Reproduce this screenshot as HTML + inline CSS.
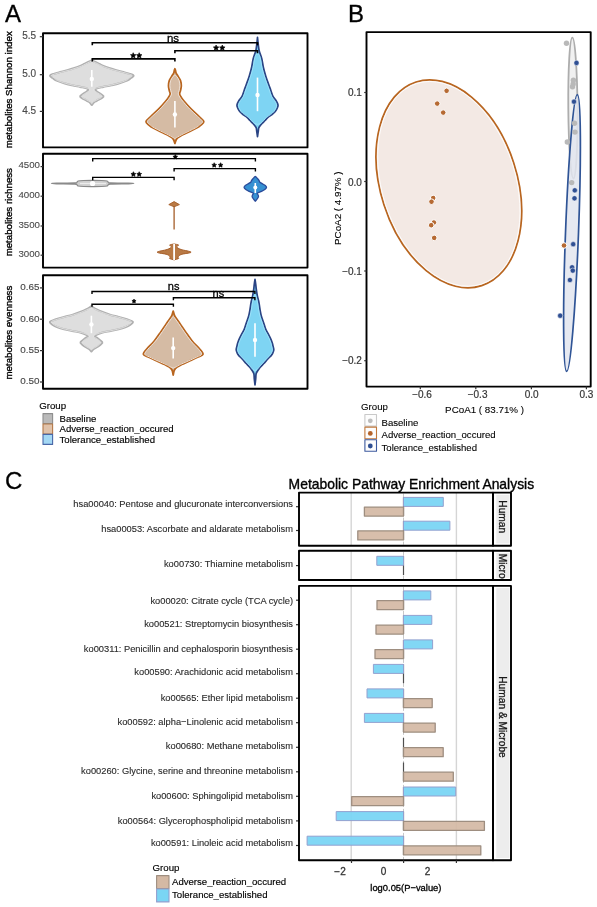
<!DOCTYPE html>
<html><head><meta charset="utf-8"><style>
html,body{margin:0;padding:0;background:#fff;}
body{width:597px;height:907px;overflow:hidden;font-family:"Liberation Sans", sans-serif;}
svg{display:block;will-change:transform;}
</style></head><body>
<svg width="597" height="907" viewBox="0 0 597 907" font-family='"Liberation Sans", sans-serif'><text x="5.00" y="21.60" font-size="24" text-anchor="start" fill="#000" stroke="#000" stroke-width="0.3">A</text>
<rect x="43.00" y="33.20" width="264.50" height="114.20" fill="none" stroke="#000" stroke-width="1.9" stroke-linejoin="round"/>
<rect x="43.00" y="153.80" width="264.50" height="113.80" fill="none" stroke="#000" stroke-width="1.9" stroke-linejoin="round"/>
<rect x="43.00" y="275.30" width="264.50" height="113.40" fill="none" stroke="#000" stroke-width="1.9" stroke-linejoin="round"/>
<line x1="39.80" y1="36.70" x2="43.00" y2="36.70" stroke="#333" stroke-width="1.2"/>
<text x="36.20" y="39.30" font-size="10.0" text-anchor="end" fill="#4a4a4a" stroke="#4a4a4a" stroke-width="0.15">5.5</text>
<line x1="39.80" y1="74.70" x2="43.00" y2="74.70" stroke="#333" stroke-width="1.2"/>
<text x="36.20" y="76.70" font-size="10.0" text-anchor="end" fill="#4a4a4a" stroke="#4a4a4a" stroke-width="0.15">5.0</text>
<line x1="39.80" y1="111.40" x2="43.00" y2="111.40" stroke="#333" stroke-width="1.2"/>
<text x="36.20" y="114.00" font-size="10.0" text-anchor="end" fill="#4a4a4a" stroke="#4a4a4a" stroke-width="0.15">4.5</text>
<text x="11.60" y="89.70" font-size="9.7" text-anchor="middle" fill="#000" stroke="#000" stroke-width="0.35" transform="rotate(-90 11.6 89.7)">metabolites Shannon index</text>
<path d="M91.80,60.30 C92.40,60.58 94.13,61.38 95.40,62.00 C96.67,62.62 98.07,63.33 99.40,64.00 C100.73,64.67 101.78,65.32 103.40,66.00 C105.02,66.68 107.08,67.42 109.10,68.10 C111.12,68.78 113.10,69.43 115.50,70.10 C117.90,70.77 121.22,71.50 123.50,72.10 C125.78,72.70 127.52,73.12 129.20,73.70 C130.88,74.28 133.33,74.88 133.60,75.60 C133.87,76.32 131.80,77.20 130.80,78.00 C129.80,78.80 129.48,79.52 127.60,80.40 C125.72,81.28 122.18,82.48 119.50,83.30 C116.82,84.12 114.18,84.70 111.50,85.30 C108.82,85.90 105.68,86.43 103.40,86.90 C101.12,87.37 99.15,87.65 97.80,88.10 C96.45,88.55 95.47,89.03 95.30,89.60 C95.13,90.17 95.88,90.77 96.80,91.50 C97.72,92.23 99.70,93.23 100.80,94.00 C101.90,94.77 103.15,95.47 103.40,96.10 C103.65,96.73 102.97,97.27 102.30,97.80 C101.63,98.33 100.40,98.77 99.40,99.30 C98.40,99.83 97.23,100.47 96.30,101.00 C95.37,101.53 94.55,101.83 93.80,102.50 C93.05,103.17 92.13,104.58 91.80,105.00 C91.47,104.58 90.55,103.17 89.80,102.50 C89.05,101.83 88.23,101.53 87.30,101.00 C86.37,100.47 85.20,99.83 84.20,99.30 C83.20,98.77 81.97,98.33 81.30,97.80 C80.63,97.27 79.95,96.73 80.20,96.10 C80.45,95.47 81.70,94.77 82.80,94.00 C83.90,93.23 85.88,92.23 86.80,91.50 C87.72,90.77 88.47,90.17 88.30,89.60 C88.13,89.03 87.15,88.55 85.80,88.10 C84.45,87.65 82.48,87.37 80.20,86.90 C77.92,86.43 74.78,85.90 72.10,85.30 C69.42,84.70 66.78,84.12 64.10,83.30 C61.42,82.48 57.88,81.28 56.00,80.40 C54.12,79.52 53.80,78.80 52.80,78.00 C51.80,77.20 49.73,76.32 50.00,75.60 C50.27,74.88 52.72,74.28 54.40,73.70 C56.08,73.12 57.82,72.70 60.10,72.10 C62.38,71.50 65.70,70.77 68.10,70.10 C70.50,69.43 72.48,68.78 74.50,68.10 C76.52,67.42 78.58,66.68 80.20,66.00 C81.82,65.32 82.87,64.67 84.20,64.00 C85.53,63.33 86.93,62.62 88.20,62.00 C89.47,61.38 91.20,60.58 91.80,60.30Z" fill="#dedede" stroke="#b0b0b0" stroke-width="2.1" stroke-linejoin="round"/>
<path d="M91.80,60.80 C92.17,61.00 92.97,61.47 94.00,62.00 C95.03,62.53 96.67,63.33 98.00,64.00 C99.33,64.67 100.38,65.32 102.00,66.00 C103.62,66.68 105.68,67.42 107.70,68.10 C109.72,68.78 111.70,69.43 114.10,70.10 C116.50,70.77 119.82,71.50 122.10,72.10 C124.38,72.70 126.12,73.12 127.80,73.70 C129.48,74.28 131.93,74.88 132.20,75.60 C132.47,76.32 130.40,77.20 129.40,78.00 C128.40,78.80 128.08,79.52 126.20,80.40 C124.32,81.28 120.78,82.48 118.10,83.30 C115.42,84.12 112.78,84.70 110.10,85.30 C107.42,85.90 104.28,86.43 102.00,86.90 C99.72,87.37 97.75,87.65 96.40,88.10 C95.05,88.55 94.07,89.03 93.90,89.60 C93.73,90.17 94.48,90.77 95.40,91.50 C96.32,92.23 98.30,93.23 99.40,94.00 C100.50,94.77 101.75,95.47 102.00,96.10 C102.25,96.73 101.57,97.27 100.90,97.80 C100.23,98.33 99.00,98.77 98.00,99.30 C97.00,99.83 95.83,100.47 94.90,101.00 C93.97,101.53 92.92,102.05 92.40,102.50 C91.88,102.95 91.90,103.50 91.80,103.70 C91.70,103.50 91.72,102.95 91.20,102.50 C90.68,102.05 89.63,101.53 88.70,101.00 C87.77,100.47 86.60,99.83 85.60,99.30 C84.60,98.77 83.37,98.33 82.70,97.80 C82.03,97.27 81.35,96.73 81.60,96.10 C81.85,95.47 83.10,94.77 84.20,94.00 C85.30,93.23 87.28,92.23 88.20,91.50 C89.12,90.77 89.87,90.17 89.70,89.60 C89.53,89.03 88.55,88.55 87.20,88.10 C85.85,87.65 83.88,87.37 81.60,86.90 C79.32,86.43 76.18,85.90 73.50,85.30 C70.82,84.70 68.18,84.12 65.50,83.30 C62.82,82.48 59.28,81.28 57.40,80.40 C55.52,79.52 55.20,78.80 54.20,78.00 C53.20,77.20 51.13,76.32 51.40,75.60 C51.67,74.88 54.12,74.28 55.80,73.70 C57.48,73.12 59.22,72.70 61.50,72.10 C63.78,71.50 67.10,70.77 69.50,70.10 C71.90,69.43 73.88,68.78 75.90,68.10 C77.92,67.42 79.98,66.68 81.60,66.00 C83.22,65.32 84.27,64.67 85.60,64.00 C86.93,63.33 88.57,62.53 89.60,62.00 C90.63,61.47 91.43,61.00 91.80,60.80Z" fill="none" stroke="#e9e9e9" stroke-width="0.8" stroke-linejoin="round"/>
<line x1="91.80" y1="70.10" x2="91.80" y2="86.80" stroke="#fff" stroke-width="1.6"/>
<circle cx="91.80" cy="78.90" r="2.2" fill="#fff" stroke="none" stroke-width="1"/>
<path d="M174.90,68.80 C175.00,69.08 175.30,69.80 175.50,70.50 C175.70,71.20 175.67,72.02 176.10,73.00 C176.53,73.98 177.37,75.15 178.10,76.40 C178.83,77.65 179.97,78.93 180.50,80.50 C181.03,82.07 181.30,84.13 181.30,85.80 C181.30,87.47 180.78,89.13 180.50,90.50 C180.22,91.87 179.45,92.83 179.60,94.00 C179.75,95.17 180.67,96.33 181.40,97.50 C182.13,98.67 182.35,99.05 184.00,101.00 C185.65,102.95 188.82,106.65 191.30,109.20 C193.78,111.75 196.82,114.25 198.90,116.30 C200.98,118.35 203.47,120.05 203.80,121.50 C204.13,122.95 202.10,123.92 200.90,125.00 C199.70,126.08 199.32,126.52 196.60,128.00 C193.88,129.48 187.68,132.32 184.60,133.90 C181.52,135.48 179.52,136.48 178.10,137.50 C176.68,138.52 176.63,139.00 176.10,140.00 C175.57,141.00 175.10,142.92 174.90,143.50 C174.70,142.92 174.23,141.00 173.70,140.00 C173.17,139.00 173.12,138.52 171.70,137.50 C170.28,136.48 168.28,135.48 165.20,133.90 C162.12,132.32 155.92,129.48 153.20,128.00 C150.48,126.52 150.10,126.08 148.90,125.00 C147.70,123.92 145.67,122.95 146.00,121.50 C146.33,120.05 148.82,118.35 150.90,116.30 C152.98,114.25 156.02,111.75 158.50,109.20 C160.98,106.65 164.15,102.95 165.80,101.00 C167.45,99.05 167.67,98.67 168.40,97.50 C169.13,96.33 170.05,95.17 170.20,94.00 C170.35,92.83 169.58,91.87 169.30,90.50 C169.02,89.13 168.50,87.47 168.50,85.80 C168.50,84.13 168.77,82.07 169.30,80.50 C169.83,78.93 170.97,77.65 171.70,76.40 C172.43,75.15 173.27,73.98 173.70,73.00 C174.13,72.02 174.10,71.20 174.30,70.50 C174.50,69.80 174.80,69.08 174.90,68.80Z" fill="#d5bba4" stroke="#b8651f" stroke-width="1.8" stroke-linejoin="round"/>
<path d="M174.90,75.20 C175.20,75.40 176.00,75.52 176.70,76.40 C177.40,77.28 178.57,78.93 179.10,80.50 C179.63,82.07 179.90,84.13 179.90,85.80 C179.90,87.47 179.38,89.13 179.10,90.50 C178.82,91.87 178.05,92.83 178.20,94.00 C178.35,95.17 179.27,96.33 180.00,97.50 C180.73,98.67 180.95,99.05 182.60,101.00 C184.25,102.95 187.42,106.65 189.90,109.20 C192.38,111.75 195.42,114.25 197.50,116.30 C199.58,118.35 202.07,120.05 202.40,121.50 C202.73,122.95 200.70,123.92 199.50,125.00 C198.30,126.08 197.92,126.52 195.20,128.00 C192.48,129.48 186.28,132.32 183.20,133.90 C180.12,135.48 178.08,136.70 176.70,137.50 C175.32,138.30 175.20,138.50 174.90,138.70 C174.60,138.50 174.48,138.30 173.10,137.50 C171.72,136.70 169.68,135.48 166.60,133.90 C163.52,132.32 157.32,129.48 154.60,128.00 C151.88,126.52 151.50,126.08 150.30,125.00 C149.10,123.92 147.07,122.95 147.40,121.50 C147.73,120.05 150.22,118.35 152.30,116.30 C154.38,114.25 157.42,111.75 159.90,109.20 C162.38,106.65 165.55,102.95 167.20,101.00 C168.85,99.05 169.07,98.67 169.80,97.50 C170.53,96.33 171.45,95.17 171.60,94.00 C171.75,92.83 170.98,91.87 170.70,90.50 C170.42,89.13 169.90,87.47 169.90,85.80 C169.90,84.13 170.17,82.07 170.70,80.50 C171.23,78.93 172.40,77.28 173.10,76.40 C173.80,75.52 174.60,75.40 174.90,75.20Z" fill="none" stroke="#ece0d6" stroke-width="1.0" stroke-linejoin="round"/>
<line x1="174.90" y1="101.00" x2="174.90" y2="127.40" stroke="#fff" stroke-width="1.6"/>
<circle cx="174.90" cy="114.50" r="2.2" fill="#fff" stroke="none" stroke-width="1"/>
<path d="M257.50,37.40 C257.63,38.65 258.02,42.67 258.30,44.90 C258.58,47.13 258.82,49.13 259.20,50.80 C259.58,52.47 260.15,53.52 260.60,54.90 C261.05,56.28 261.43,57.00 261.90,59.10 C262.37,61.20 262.77,64.70 263.40,67.50 C264.03,70.30 264.83,73.10 265.70,75.90 C266.57,78.70 267.77,81.95 268.60,84.30 C269.43,86.65 269.97,87.98 270.70,90.00 C271.43,92.02 272.12,94.65 273.00,96.40 C273.88,98.15 275.17,99.10 276.00,100.50 C276.83,101.90 277.78,103.55 278.00,104.80 C278.22,106.05 277.75,106.88 277.30,108.00 C276.85,109.12 276.18,110.42 275.30,111.50 C274.42,112.58 273.22,113.53 272.00,114.50 C270.78,115.47 269.17,116.30 268.00,117.30 C266.83,118.30 265.95,119.52 265.00,120.50 C264.05,121.48 263.30,122.05 262.30,123.20 C261.30,124.35 259.67,126.10 259.00,127.40 C258.33,128.70 258.55,129.47 258.30,131.00 C258.05,132.53 257.63,135.67 257.50,136.60 C257.37,135.67 256.95,132.53 256.70,131.00 C256.45,129.47 256.67,128.70 256.00,127.40 C255.33,126.10 253.70,124.35 252.70,123.20 C251.70,122.05 250.95,121.48 250.00,120.50 C249.05,119.52 248.17,118.30 247.00,117.30 C245.83,116.30 244.22,115.47 243.00,114.50 C241.78,113.53 240.58,112.58 239.70,111.50 C238.82,110.42 238.15,109.12 237.70,108.00 C237.25,106.88 236.78,106.05 237.00,104.80 C237.22,103.55 238.17,101.90 239.00,100.50 C239.83,99.10 241.12,98.15 242.00,96.40 C242.88,94.65 243.57,92.02 244.30,90.00 C245.03,87.98 245.57,86.65 246.40,84.30 C247.23,81.95 248.43,78.70 249.30,75.90 C250.17,73.10 250.97,70.30 251.60,67.50 C252.23,64.70 252.63,61.20 253.10,59.10 C253.57,57.00 253.95,56.28 254.40,54.90 C254.85,53.52 255.42,52.47 255.80,50.80 C256.18,49.13 256.42,47.13 256.70,44.90 C256.98,42.67 257.37,38.65 257.50,37.40Z" fill="#7ed4f3" stroke="#2a4484" stroke-width="1.7" stroke-linejoin="round"/>
<path d="M257.50,53.70 C257.78,53.90 258.70,54.00 259.20,54.90 C259.70,55.80 260.03,57.00 260.50,59.10 C260.97,61.20 261.37,64.70 262.00,67.50 C262.63,70.30 263.43,73.10 264.30,75.90 C265.17,78.70 266.37,81.95 267.20,84.30 C268.03,86.65 268.57,87.98 269.30,90.00 C270.03,92.02 270.72,94.65 271.60,96.40 C272.48,98.15 273.77,99.10 274.60,100.50 C275.43,101.90 276.38,103.55 276.60,104.80 C276.82,106.05 276.35,106.88 275.90,108.00 C275.45,109.12 274.78,110.42 273.90,111.50 C273.02,112.58 271.82,113.53 270.60,114.50 C269.38,115.47 267.77,116.30 266.60,117.30 C265.43,118.30 264.55,119.52 263.60,120.50 C262.65,121.48 261.92,122.55 260.90,123.20 C259.88,123.85 258.07,124.20 257.50,124.40 C256.93,124.20 255.12,123.85 254.10,123.20 C253.08,122.55 252.35,121.48 251.40,120.50 C250.45,119.52 249.57,118.30 248.40,117.30 C247.23,116.30 245.62,115.47 244.40,114.50 C243.18,113.53 241.98,112.58 241.10,111.50 C240.22,110.42 239.55,109.12 239.10,108.00 C238.65,106.88 238.18,106.05 238.40,104.80 C238.62,103.55 239.57,101.90 240.40,100.50 C241.23,99.10 242.52,98.15 243.40,96.40 C244.28,94.65 244.97,92.02 245.70,90.00 C246.43,87.98 246.97,86.65 247.80,84.30 C248.63,81.95 249.83,78.70 250.70,75.90 C251.57,73.10 252.37,70.30 253.00,67.50 C253.63,64.70 254.03,61.20 254.50,59.10 C254.97,57.00 255.30,55.80 255.80,54.90 C256.30,54.00 257.22,53.90 257.50,53.70Z" fill="none" stroke="#a5e4fb" stroke-width="0.8" stroke-linejoin="round"/>
<line x1="257.50" y1="77.60" x2="257.50" y2="111.20" stroke="#fff" stroke-width="1.6"/>
<circle cx="257.50" cy="95.00" r="2.2" fill="#fff" stroke="none" stroke-width="1"/>
<path d="M92.30,45.30 L92.30,42.80 L257.50,42.80 L257.50,45.30" fill="none" stroke="#000" stroke-width="1.6"/>
<path d="M92.30,61.40 L92.30,58.90 L174.90,58.90 L174.90,61.40" fill="none" stroke="#000" stroke-width="1.6"/>
<path d="M174.90,53.30 L174.90,50.80 L257.50,50.80 L257.50,53.30" fill="none" stroke="#000" stroke-width="1.6"/>
<text x="173.00" y="42.20" font-size="11.5" text-anchor="middle" fill="#000" stroke="#000" stroke-width="0.3">ns</text>
<polygon points="133.20,52.70 134.05,54.43 135.96,54.70 134.58,56.05 134.90,57.95 133.20,57.05 131.50,57.95 131.82,56.05 130.44,54.70 132.35,54.43" fill="#000" stroke="#000" stroke-width="0.6" stroke-linejoin="round"/>
<polygon points="139.20,52.70 140.05,54.43 141.96,54.70 140.58,56.05 140.90,57.95 139.20,57.05 137.50,57.95 137.82,56.05 136.44,54.70 138.35,54.43" fill="#000" stroke="#000" stroke-width="0.6" stroke-linejoin="round"/>
<polygon points="216.10,45.00 216.95,46.73 218.86,47.00 217.48,48.35 217.80,50.25 216.10,49.35 214.40,50.25 214.72,48.35 213.34,47.00 215.25,46.73" fill="#000" stroke="#000" stroke-width="0.6" stroke-linejoin="round"/>
<polygon points="222.30,45.00 223.15,46.73 225.06,47.00 223.68,48.35 224.00,50.25 222.30,49.35 220.60,50.25 220.92,48.35 219.54,47.00 221.45,46.73" fill="#000" stroke="#000" stroke-width="0.6" stroke-linejoin="round"/>
<line x1="40.60" y1="166.60" x2="43.00" y2="166.60" stroke="#333" stroke-width="1.2"/>
<text x="40.00" y="168.20" font-size="9.7" text-anchor="end" fill="#4a4a4a" stroke="#4a4a4a" stroke-width="0.1">4500</text>
<line x1="40.60" y1="196.20" x2="43.00" y2="196.20" stroke="#333" stroke-width="1.2"/>
<text x="40.00" y="198.20" font-size="9.7" text-anchor="end" fill="#4a4a4a" stroke="#4a4a4a" stroke-width="0.1">4000</text>
<line x1="40.60" y1="226.00" x2="43.00" y2="226.00" stroke="#333" stroke-width="1.2"/>
<text x="40.00" y="228.00" font-size="9.7" text-anchor="end" fill="#4a4a4a" stroke="#4a4a4a" stroke-width="0.1">3500</text>
<line x1="40.60" y1="255.20" x2="43.00" y2="255.20" stroke="#333" stroke-width="1.2"/>
<text x="40.00" y="257.20" font-size="9.7" text-anchor="end" fill="#4a4a4a" stroke="#4a4a4a" stroke-width="0.1">3000</text>
<text x="11.80" y="212.20" font-size="9.7" text-anchor="middle" fill="#000" stroke="#000" stroke-width="0.35" transform="rotate(-90 11.8 212.2)">metabolites richness</text>
<path d="M92.60,180.30 C94.10,180.33 99.18,180.38 101.60,180.50 C104.02,180.62 106.02,180.75 107.10,181.00 C108.18,181.25 107.52,181.68 108.10,182.00 C108.68,182.32 107.18,182.70 110.60,182.90 C114.02,183.10 124.73,183.10 128.60,183.20 C132.47,183.30 133.80,183.40 133.80,183.50 C133.80,183.60 132.47,183.70 128.60,183.80 C124.73,183.90 114.02,183.90 110.60,184.10 C107.18,184.30 108.68,184.68 108.10,185.00 C107.52,185.32 108.18,185.75 107.10,186.00 C106.02,186.25 104.02,186.38 101.60,186.50 C99.18,186.62 94.10,186.67 92.60,186.70 C91.10,186.67 86.02,186.62 83.60,186.50 C81.18,186.38 79.18,186.25 78.10,186.00 C77.02,185.75 77.68,185.32 77.10,185.00 C76.52,184.68 78.02,184.30 74.60,184.10 C71.18,183.90 60.47,183.90 56.60,183.80 C52.73,183.70 51.40,183.60 51.40,183.50 C51.40,183.40 52.73,183.30 56.60,183.20 C60.47,183.10 71.18,183.10 74.60,182.90 C78.02,182.70 76.52,182.32 77.10,182.00 C77.68,181.68 77.02,181.25 78.10,181.00 C79.18,180.75 81.18,180.62 83.60,180.50 C86.02,180.38 91.10,180.33 92.60,180.30Z" fill="#cfcfcf" stroke="#8a8a8a" stroke-width="1.2" stroke-linejoin="round"/>
<line x1="80.00" y1="183.50" x2="106.00" y2="183.50" stroke="#ececec" stroke-width="1.3"/>
<circle cx="92.60" cy="183.50" r="2.6" fill="#fff" stroke="none" stroke-width="1"/>
<path d="M174.1,201.6 L179.4,204.6 L174.1,206.8 L168.8,204.6 Z" fill="#b97a45" stroke="#a55d28" stroke-width="0.9" stroke-linejoin="round"/>
<line x1="174.10" y1="206.00" x2="174.10" y2="229.60" stroke="#a55d28" stroke-width="1.3"/>
<path d="M174.10,244.00 C174.85,244.17 178.18,244.50 178.60,245.00 C179.02,245.50 176.18,246.25 176.60,247.00 C177.02,247.75 178.68,248.63 181.10,249.50 C183.52,250.37 191.10,251.37 191.10,252.20 C191.10,253.03 183.27,253.70 181.10,254.50 C178.93,255.30 178.52,256.33 178.10,257.00 C177.68,257.67 179.27,258.02 178.60,258.50 C177.93,258.98 174.85,259.67 174.10,259.90 C173.35,259.67 170.27,258.98 169.60,258.50 C168.93,258.02 170.52,257.67 170.10,257.00 C169.68,256.33 169.27,255.30 167.10,254.50 C164.93,253.70 157.10,253.03 157.10,252.20 C157.10,251.37 164.68,250.37 167.10,249.50 C169.52,248.63 171.18,247.75 171.60,247.00 C172.02,246.25 169.18,245.50 169.60,245.00 C170.02,244.50 173.35,244.17 174.10,244.00Z" fill="#b97a45" stroke="#a55d28" stroke-width="1.0" stroke-linejoin="round"/>
<line x1="174.10" y1="244.00" x2="174.10" y2="260.00" stroke="#fff" stroke-width="1.8"/>
<path d="M255.30,176.40 C255.50,176.58 256.07,177.07 256.50,177.50 C256.93,177.93 257.47,178.47 257.90,179.00 C258.33,179.53 258.77,180.17 259.10,180.70 C259.43,181.23 259.40,181.72 259.90,182.20 C260.40,182.68 261.20,183.05 262.10,183.60 C263.00,184.15 264.57,184.87 265.30,185.50 C266.03,186.13 266.58,186.73 266.50,187.40 C266.42,188.07 265.63,188.83 264.80,189.50 C263.97,190.17 262.75,190.78 261.50,191.40 C260.25,192.02 257.90,192.67 257.30,193.20 C256.70,193.73 257.70,194.05 257.90,194.60 C258.10,195.15 258.57,195.85 258.50,196.50 C258.43,197.15 258.03,197.72 257.50,198.50 C256.97,199.28 255.67,200.75 255.30,201.20 C254.93,200.75 253.63,199.28 253.10,198.50 C252.57,197.72 252.17,197.15 252.10,196.50 C252.03,195.85 252.50,195.15 252.70,194.60 C252.90,194.05 253.90,193.73 253.30,193.20 C252.70,192.67 250.35,192.02 249.10,191.40 C247.85,190.78 246.63,190.17 245.80,189.50 C244.97,188.83 244.18,188.07 244.10,187.40 C244.02,186.73 244.57,186.13 245.30,185.50 C246.03,184.87 247.60,184.15 248.50,183.60 C249.40,183.05 250.20,182.68 250.70,182.20 C251.20,181.72 251.17,181.23 251.50,180.70 C251.83,180.17 252.27,179.53 252.70,179.00 C253.13,178.47 253.67,177.93 254.10,177.50 C254.53,177.07 255.10,176.58 255.30,176.40Z" fill="#3590d2" stroke="#2b4c9b" stroke-width="1.3" stroke-linejoin="round"/>
<line x1="255.30" y1="183.00" x2="255.30" y2="193.00" stroke="#fff" stroke-width="1.6"/>
<circle cx="255.30" cy="187.60" r="2.0" fill="#fff" stroke="none" stroke-width="1"/>
<path d="M92.70,161.40 L92.70,158.60 L255.40,158.60 L255.40,161.40" fill="none" stroke="#000" stroke-width="1.4"/>
<path d="M174.10,171.40 L174.10,168.60 L255.40,168.60 L255.40,171.40" fill="none" stroke="#000" stroke-width="1.4"/>
<path d="M92.70,180.20 L92.70,177.40 L174.10,177.40 L174.10,180.20" fill="none" stroke="#000" stroke-width="1.4"/>
<polygon points="175.30,154.50 176.03,155.99 177.68,156.23 176.49,157.39 176.77,159.02 175.30,158.25 173.83,159.02 174.11,157.39 172.92,156.23 174.57,155.99" fill="#000" stroke="#000" stroke-width="0.6" stroke-linejoin="round"/>
<polygon points="214.20,162.70 214.93,164.19 216.58,164.43 215.39,165.59 215.67,167.22 214.20,166.45 212.73,167.22 213.01,165.59 211.82,164.43 213.47,164.19" fill="#000" stroke="#000" stroke-width="0.6" stroke-linejoin="round"/>
<polygon points="220.60,162.70 221.33,164.19 222.98,164.43 221.79,165.59 222.07,167.22 220.60,166.45 219.13,167.22 219.41,165.59 218.22,164.43 219.87,164.19" fill="#000" stroke="#000" stroke-width="0.6" stroke-linejoin="round"/>
<polygon points="133.40,171.70 134.16,173.25 135.87,173.50 134.64,174.70 134.93,176.40 133.40,175.60 131.87,176.40 132.16,174.70 130.93,173.50 132.64,173.25" fill="#000" stroke="#000" stroke-width="0.6" stroke-linejoin="round"/>
<polygon points="139.20,171.70 139.96,173.25 141.67,173.50 140.44,174.70 140.73,176.40 139.20,175.60 137.67,176.40 137.96,174.70 136.73,173.50 138.44,173.25" fill="#000" stroke="#000" stroke-width="0.6" stroke-linejoin="round"/>
<line x1="40.00" y1="287.90" x2="43.00" y2="287.90" stroke="#333" stroke-width="1.2"/>
<text x="39.40" y="290.40" font-size="9.9" text-anchor="end" fill="#4a4a4a" stroke="#4a4a4a" stroke-width="0.15">0.65</text>
<line x1="40.00" y1="319.20" x2="43.00" y2="319.20" stroke="#333" stroke-width="1.2"/>
<text x="39.40" y="321.60" font-size="9.9" text-anchor="end" fill="#4a4a4a" stroke="#4a4a4a" stroke-width="0.15">0.60</text>
<line x1="40.00" y1="350.60" x2="43.00" y2="350.60" stroke="#333" stroke-width="1.2"/>
<text x="39.40" y="353.00" font-size="9.9" text-anchor="end" fill="#4a4a4a" stroke="#4a4a4a" stroke-width="0.15">0.55</text>
<line x1="40.00" y1="382.00" x2="43.00" y2="382.00" stroke="#333" stroke-width="1.2"/>
<text x="39.40" y="384.40" font-size="9.9" text-anchor="end" fill="#4a4a4a" stroke="#4a4a4a" stroke-width="0.15">0.50</text>
<text x="11.80" y="332.60" font-size="9.7" text-anchor="middle" fill="#000" stroke="#000" stroke-width="0.35" transform="rotate(-90 11.8 332.6)">metabolites evenness</text>
<path d="M91.40,306.20 C92.20,306.70 94.33,308.22 96.20,309.20 C98.07,310.18 100.18,311.15 102.60,312.10 C105.02,313.05 108.02,314.10 110.70,314.90 C113.38,315.70 116.02,316.17 118.70,316.90 C121.38,317.63 124.45,318.50 126.80,319.30 C129.15,320.10 132.27,320.77 132.80,321.70 C133.33,322.63 131.27,323.97 130.00,324.90 C128.73,325.83 127.08,326.57 125.20,327.30 C123.32,328.03 121.12,328.68 118.70,329.30 C116.28,329.92 113.38,330.45 110.70,331.00 C108.02,331.55 104.88,332.00 102.60,332.60 C100.32,333.20 98.30,333.97 97.00,334.60 C95.70,335.23 94.65,335.75 94.80,336.40 C94.95,337.05 96.67,337.53 97.90,338.50 C99.13,339.47 101.70,341.23 102.20,342.20 C102.70,343.17 101.50,343.63 100.90,344.30 C100.30,344.97 99.78,345.42 98.60,346.20 C97.42,346.98 95.00,348.13 93.80,349.00 C92.60,349.87 91.80,351.00 91.40,351.40 C91.00,351.00 90.20,349.87 89.00,349.00 C87.80,348.13 85.38,346.98 84.20,346.20 C83.02,345.42 82.50,344.97 81.90,344.30 C81.30,343.63 80.10,343.17 80.60,342.20 C81.10,341.23 83.67,339.47 84.90,338.50 C86.13,337.53 87.85,337.05 88.00,336.40 C88.15,335.75 87.10,335.23 85.80,334.60 C84.50,333.97 82.48,333.20 80.20,332.60 C77.92,332.00 74.78,331.55 72.10,331.00 C69.42,330.45 66.52,329.92 64.10,329.30 C61.68,328.68 59.48,328.03 57.60,327.30 C55.72,326.57 54.07,325.83 52.80,324.90 C51.53,323.97 49.47,322.63 50.00,321.70 C50.53,320.77 53.65,320.10 56.00,319.30 C58.35,318.50 61.42,317.63 64.10,316.90 C66.78,316.17 69.42,315.70 72.10,314.90 C74.78,314.10 77.78,313.05 80.20,312.10 C82.62,311.15 84.73,310.18 86.60,309.20 C88.47,308.22 90.60,306.70 91.40,306.20Z" fill="#dedede" stroke="#b0b0b0" stroke-width="2.1" stroke-linejoin="round"/>
<path d="M91.40,308.00 C91.97,308.20 93.17,308.52 94.80,309.20 C96.43,309.88 98.78,311.15 101.20,312.10 C103.62,313.05 106.62,314.10 109.30,314.90 C111.98,315.70 114.62,316.17 117.30,316.90 C119.98,317.63 123.05,318.50 125.40,319.30 C127.75,320.10 130.87,320.77 131.40,321.70 C131.93,322.63 129.87,323.97 128.60,324.90 C127.33,325.83 125.68,326.57 123.80,327.30 C121.92,328.03 119.72,328.68 117.30,329.30 C114.88,329.92 111.98,330.45 109.30,331.00 C106.62,331.55 103.48,332.00 101.20,332.60 C98.92,333.20 96.90,333.97 95.60,334.60 C94.30,335.23 93.25,335.75 93.40,336.40 C93.55,337.05 95.27,337.53 96.50,338.50 C97.73,339.47 100.30,341.23 100.80,342.20 C101.30,343.17 100.10,343.63 99.50,344.30 C98.90,344.97 98.38,345.42 97.20,346.20 C96.02,346.98 93.37,348.33 92.40,349.00 C91.43,349.67 91.57,350.00 91.40,350.20 C91.23,350.00 91.37,349.67 90.40,349.00 C89.43,348.33 86.78,346.98 85.60,346.20 C84.42,345.42 83.90,344.97 83.30,344.30 C82.70,343.63 81.50,343.17 82.00,342.20 C82.50,341.23 85.07,339.47 86.30,338.50 C87.53,337.53 89.25,337.05 89.40,336.40 C89.55,335.75 88.50,335.23 87.20,334.60 C85.90,333.97 83.88,333.20 81.60,332.60 C79.32,332.00 76.18,331.55 73.50,331.00 C70.82,330.45 67.92,329.92 65.50,329.30 C63.08,328.68 60.88,328.03 59.00,327.30 C57.12,326.57 55.47,325.83 54.20,324.90 C52.93,323.97 50.87,322.63 51.40,321.70 C51.93,320.77 55.05,320.10 57.40,319.30 C59.75,318.50 62.82,317.63 65.50,316.90 C68.18,316.17 70.82,315.70 73.50,314.90 C76.18,314.10 79.18,313.05 81.60,312.10 C84.02,311.15 86.37,309.88 88.00,309.20 C89.63,308.52 90.83,308.20 91.40,308.00Z" fill="none" stroke="#e9e9e9" stroke-width="0.8" stroke-linejoin="round"/>
<line x1="91.40" y1="315.70" x2="91.40" y2="333.20" stroke="#fff" stroke-width="1.6"/>
<circle cx="91.40" cy="324.40" r="2.2" fill="#fff" stroke="none" stroke-width="1"/>
<path d="M173.20,311.10 C173.37,311.67 173.78,313.42 174.20,314.50 C174.62,315.58 174.75,316.12 175.70,317.60 C176.65,319.08 178.27,321.05 179.90,323.40 C181.53,325.75 183.45,328.77 185.50,331.70 C187.55,334.63 189.80,338.08 192.20,341.00 C194.60,343.92 198.10,347.00 199.90,349.20 C201.70,351.40 203.28,352.90 203.00,354.20 C202.72,355.50 200.43,355.87 198.20,357.00 C195.97,358.13 192.35,359.75 189.60,361.00 C186.85,362.25 183.70,363.53 181.70,364.50 C179.70,365.47 178.82,365.88 177.60,366.80 C176.38,367.72 175.13,368.63 174.40,370.00 C173.67,371.37 173.40,374.17 173.20,375.00 C173.00,374.17 172.73,371.37 172.00,370.00 C171.27,368.63 170.02,367.72 168.80,366.80 C167.58,365.88 166.70,365.47 164.70,364.50 C162.70,363.53 159.55,362.25 156.80,361.00 C154.05,359.75 150.43,358.13 148.20,357.00 C145.97,355.87 143.68,355.50 143.40,354.20 C143.12,352.90 144.70,351.40 146.50,349.20 C148.30,347.00 151.80,343.92 154.20,341.00 C156.60,338.08 158.85,334.63 160.90,331.70 C162.95,328.77 164.87,325.75 166.50,323.40 C168.13,321.05 169.75,319.08 170.70,317.60 C171.65,316.12 171.78,315.58 172.20,314.50 C172.62,313.42 173.03,311.67 173.20,311.10Z" fill="#d5bba4" stroke="#b8651f" stroke-width="1.8" stroke-linejoin="round"/>
<path d="M173.20,316.40 C173.38,316.60 173.42,316.43 174.30,317.60 C175.18,318.77 176.87,321.05 178.50,323.40 C180.13,325.75 182.05,328.77 184.10,331.70 C186.15,334.63 188.40,338.08 190.80,341.00 C193.20,343.92 196.70,347.00 198.50,349.20 C200.30,351.40 201.88,352.90 201.60,354.20 C201.32,355.50 199.03,355.87 196.80,357.00 C194.57,358.13 190.95,359.75 188.20,361.00 C185.45,362.25 182.30,363.53 180.30,364.50 C178.30,365.47 177.38,366.22 176.20,366.80 C175.02,367.38 173.70,367.80 173.20,368.00 C172.70,367.80 171.38,367.38 170.20,366.80 C169.02,366.22 168.10,365.47 166.10,364.50 C164.10,363.53 160.95,362.25 158.20,361.00 C155.45,359.75 151.83,358.13 149.60,357.00 C147.37,355.87 145.08,355.50 144.80,354.20 C144.52,352.90 146.10,351.40 147.90,349.20 C149.70,347.00 153.20,343.92 155.60,341.00 C158.00,338.08 160.25,334.63 162.30,331.70 C164.35,328.77 166.27,325.75 167.90,323.40 C169.53,321.05 171.22,318.77 172.10,317.60 C172.98,316.43 173.02,316.60 173.20,316.40Z" fill="none" stroke="#ece0d6" stroke-width="1.0" stroke-linejoin="round"/>
<line x1="173.20" y1="337.50" x2="173.20" y2="358.60" stroke="#fff" stroke-width="1.6"/>
<circle cx="173.20" cy="348.10" r="2.2" fill="#fff" stroke="none" stroke-width="1"/>
<path d="M255.00,279.30 C255.12,280.08 255.48,282.32 255.70,284.00 C255.92,285.68 256.02,287.38 256.30,289.40 C256.58,291.42 256.95,293.87 257.40,296.10 C257.85,298.33 258.57,300.57 259.00,302.80 C259.43,305.03 259.60,307.27 260.00,309.50 C260.40,311.73 260.78,313.97 261.40,316.20 C262.02,318.43 262.95,320.67 263.70,322.90 C264.45,325.13 265.13,327.75 265.90,329.60 C266.67,331.45 267.53,332.53 268.30,334.00 C269.07,335.47 269.83,336.90 270.50,338.40 C271.17,339.90 271.85,341.60 272.30,343.00 C272.75,344.40 272.95,345.68 273.20,346.80 C273.45,347.92 273.83,348.75 273.80,349.70 C273.77,350.65 273.38,351.60 273.00,352.50 C272.62,353.40 272.37,354.02 271.50,355.10 C270.63,356.18 269.08,357.60 267.80,359.00 C266.52,360.40 264.93,362.25 263.80,363.50 C262.67,364.75 261.87,365.52 261.00,366.50 C260.13,367.48 259.40,368.22 258.60,369.40 C257.80,370.58 256.68,372.00 256.20,373.60 C255.72,375.20 255.90,377.12 255.70,379.00 C255.50,380.88 255.12,383.92 255.00,384.90 C254.88,383.92 254.50,380.88 254.30,379.00 C254.10,377.12 254.28,375.20 253.80,373.60 C253.32,372.00 252.20,370.58 251.40,369.40 C250.60,368.22 249.87,367.48 249.00,366.50 C248.13,365.52 247.33,364.75 246.20,363.50 C245.07,362.25 243.48,360.40 242.20,359.00 C240.92,357.60 239.37,356.18 238.50,355.10 C237.63,354.02 237.38,353.40 237.00,352.50 C236.62,351.60 236.23,350.65 236.20,349.70 C236.17,348.75 236.55,347.92 236.80,346.80 C237.05,345.68 237.25,344.40 237.70,343.00 C238.15,341.60 238.83,339.90 239.50,338.40 C240.17,336.90 240.93,335.47 241.70,334.00 C242.47,332.53 243.33,331.45 244.10,329.60 C244.87,327.75 245.55,325.13 246.30,322.90 C247.05,320.67 247.98,318.43 248.60,316.20 C249.22,313.97 249.60,311.73 250.00,309.50 C250.40,307.27 250.57,305.03 251.00,302.80 C251.43,300.57 252.15,298.33 252.60,296.10 C253.05,293.87 253.42,291.42 253.70,289.40 C253.98,287.38 254.08,285.68 254.30,284.00 C254.52,282.32 254.88,280.08 255.00,279.30Z" fill="#7ed4f3" stroke="#2a4484" stroke-width="1.7" stroke-linejoin="round"/>
<path d="M255.00,294.90 C255.17,295.10 255.57,294.78 256.00,296.10 C256.43,297.42 257.17,300.57 257.60,302.80 C258.03,305.03 258.20,307.27 258.60,309.50 C259.00,311.73 259.38,313.97 260.00,316.20 C260.62,318.43 261.55,320.67 262.30,322.90 C263.05,325.13 263.73,327.75 264.50,329.60 C265.27,331.45 266.13,332.53 266.90,334.00 C267.67,335.47 268.43,336.90 269.10,338.40 C269.77,339.90 270.45,341.60 270.90,343.00 C271.35,344.40 271.55,345.68 271.80,346.80 C272.05,347.92 272.43,348.75 272.40,349.70 C272.37,350.65 271.98,351.60 271.60,352.50 C271.22,353.40 270.97,354.02 270.10,355.10 C269.23,356.18 267.68,357.60 266.40,359.00 C265.12,360.40 263.53,362.25 262.40,363.50 C261.27,364.75 260.47,365.52 259.60,366.50 C258.73,367.48 257.97,368.72 257.20,369.40 C256.43,370.08 255.37,370.40 255.00,370.60 C254.63,370.40 253.57,370.08 252.80,369.40 C252.03,368.72 251.27,367.48 250.40,366.50 C249.53,365.52 248.73,364.75 247.60,363.50 C246.47,362.25 244.88,360.40 243.60,359.00 C242.32,357.60 240.77,356.18 239.90,355.10 C239.03,354.02 238.78,353.40 238.40,352.50 C238.02,351.60 237.63,350.65 237.60,349.70 C237.57,348.75 237.95,347.92 238.20,346.80 C238.45,345.68 238.65,344.40 239.10,343.00 C239.55,341.60 240.23,339.90 240.90,338.40 C241.57,336.90 242.33,335.47 243.10,334.00 C243.87,332.53 244.73,331.45 245.50,329.60 C246.27,327.75 246.95,325.13 247.70,322.90 C248.45,320.67 249.38,318.43 250.00,316.20 C250.62,313.97 251.00,311.73 251.40,309.50 C251.80,307.27 251.97,305.03 252.40,302.80 C252.83,300.57 253.57,297.42 254.00,296.10 C254.43,294.78 254.83,295.10 255.00,294.90Z" fill="none" stroke="#a5e4fb" stroke-width="0.8" stroke-linejoin="round"/>
<line x1="255.00" y1="323.20" x2="255.00" y2="356.80" stroke="#fff" stroke-width="1.6"/>
<circle cx="255.00" cy="340.00" r="2.2" fill="#fff" stroke="none" stroke-width="1"/>
<path d="M92.00,294.00 L92.00,291.50 L254.90,291.50 L254.90,294.00" fill="none" stroke="#000" stroke-width="1.4"/>
<path d="M173.40,300.30 L173.40,297.80 L254.90,297.80 L254.90,300.30" fill="none" stroke="#000" stroke-width="1.4"/>
<path d="M92.00,306.70 L92.00,304.20 L173.40,304.20 L173.40,306.70" fill="none" stroke="#000" stroke-width="1.4"/>
<text x="173.60" y="290.00" font-size="11" text-anchor="middle" fill="#000" stroke="#000" stroke-width="0.3">ns</text>
<text x="218.40" y="296.80" font-size="11" text-anchor="middle" fill="#000" stroke="#000" stroke-width="0.3">ns</text>
<polygon points="134.00,299.00 134.65,300.31 136.09,300.52 135.05,301.54 135.29,302.98 134.00,302.30 132.71,302.98 132.95,301.54 131.91,300.52 133.35,300.31" fill="#000" stroke="#000" stroke-width="0.6" stroke-linejoin="round"/>
<text x="39.20" y="409.20" font-size="9.7" text-anchor="start" fill="#000" stroke="#000" stroke-width="0.15">Group</text>
<rect x="43.00" y="413.60" width="9.60" height="10.00" fill="#bababa" stroke="#8e8e8e" stroke-width="1.1" stroke-linejoin="round"/>
<text x="59.50" y="422.00" font-size="9.6" text-anchor="start" fill="#000" stroke="#000" stroke-width="0.15">Baseline</text>
<rect x="43.00" y="424.00" width="9.60" height="10.00" fill="#e0c2aa" stroke="#b47a4a" stroke-width="1.1" stroke-linejoin="round"/>
<text x="59.50" y="432.40" font-size="9.6" text-anchor="start" fill="#000" stroke="#000" stroke-width="0.15">Adverse_reaction_occured</text>
<rect x="43.00" y="434.40" width="9.60" height="10.00" fill="#a4d8f4" stroke="#4a68a8" stroke-width="1.1" stroke-linejoin="round"/>
<text x="59.50" y="442.80" font-size="9.6" text-anchor="start" fill="#000" stroke="#000" stroke-width="0.15">Tolerance_established</text>
<text x="348.00" y="21.60" font-size="24" text-anchor="start" fill="#000" stroke="#000" stroke-width="0.3">B</text>
<rect x="366.50" y="32.10" width="224.20" height="354.50" fill="none" stroke="#000" stroke-width="1.9" stroke-linejoin="round"/>
<line x1="364.20" y1="92.50" x2="366.50" y2="92.50" stroke="#333" stroke-width="1.2"/>
<text x="361.90" y="95.60" font-size="10.0" text-anchor="end" fill="#353535" stroke="#353535" stroke-width="0.2">0.1</text>
<line x1="364.20" y1="181.50" x2="366.50" y2="181.50" stroke="#333" stroke-width="1.2"/>
<text x="361.90" y="185.70" font-size="10.0" text-anchor="end" fill="#353535" stroke="#353535" stroke-width="0.2">0.0</text>
<line x1="364.20" y1="271.00" x2="366.50" y2="271.00" stroke="#333" stroke-width="1.2"/>
<text x="361.90" y="274.50" font-size="10.0" text-anchor="end" fill="#353535" stroke="#353535" stroke-width="0.2">−0.1</text>
<line x1="364.20" y1="360.70" x2="366.50" y2="360.70" stroke="#333" stroke-width="1.2"/>
<text x="361.90" y="364.10" font-size="10.0" text-anchor="end" fill="#353535" stroke="#353535" stroke-width="0.2">−0.2</text>
<line x1="420.30" y1="386.60" x2="420.30" y2="389.20" stroke="#333" stroke-width="1.2"/>
<text x="422.00" y="398.40" font-size="10.0" text-anchor="middle" fill="#353535" stroke="#353535" stroke-width="0.2">−0.6</text>
<line x1="475.80" y1="386.60" x2="475.80" y2="389.20" stroke="#333" stroke-width="1.2"/>
<text x="477.60" y="398.40" font-size="10.0" text-anchor="middle" fill="#353535" stroke="#353535" stroke-width="0.2">−0.3</text>
<line x1="531.40" y1="386.60" x2="531.40" y2="389.20" stroke="#333" stroke-width="1.2"/>
<text x="531.60" y="398.40" font-size="10.0" text-anchor="middle" fill="#353535" stroke="#353535" stroke-width="0.2">0.0</text>
<line x1="586.40" y1="386.60" x2="586.40" y2="389.20" stroke="#333" stroke-width="1.2"/>
<text x="586.40" y="398.40" font-size="10.0" text-anchor="middle" fill="#353535" stroke="#353535" stroke-width="0.2">0.3</text>
<text x="484.60" y="413.00" font-size="9.8" text-anchor="middle" fill="#000" stroke="#000" stroke-width="0.1">PCoA1 ( 83.71% )</text>
<text x="341.40" y="208.20" font-size="9.8" text-anchor="middle" fill="#000" stroke="#000" stroke-width="0.1" transform="rotate(-90 341.4 208.2)">PCoA2 ( 4.97% )</text>
<ellipse cx="448.84" cy="183.84" rx="68.2" ry="107.0" transform="rotate(-17.87 448.84 183.84)" fill="#f3e9e4" stroke="#b8651f" stroke-width="1.7"/>
<ellipse cx="448.84" cy="183.84" rx="66.6" ry="105.4" transform="rotate(-17.87 448.84 183.84)" fill="none" stroke="#ffffff" stroke-width="0.8"/>
<ellipse cx="572.9" cy="108.1" rx="4.6" ry="70.4" transform="rotate(-0.45 572.9 108.1)" fill="#f1f1f1" stroke="#adadad" stroke-width="1.8"/>
<ellipse cx="572.0" cy="233.0" rx="6.5" ry="138.5" transform="rotate(2.2 572.0 233.0)" fill="#e2e5ee" fill-opacity="0.85" stroke="#2f5496" stroke-width="1.7"/>
<circle cx="446.60" cy="90.80" r="2.8" fill="#b66a33" stroke="#fff" stroke-width="1.0"/>
<circle cx="437.20" cy="103.60" r="2.8" fill="#b66a33" stroke="#fff" stroke-width="1.0"/>
<circle cx="443.20" cy="112.60" r="2.8" fill="#b66a33" stroke="#fff" stroke-width="1.0"/>
<circle cx="433.20" cy="198.00" r="2.8" fill="#b66a33" stroke="#fff" stroke-width="1.0"/>
<circle cx="431.50" cy="201.70" r="2.8" fill="#b66a33" stroke="#fff" stroke-width="1.0"/>
<circle cx="433.90" cy="222.50" r="2.8" fill="#b66a33" stroke="#fff" stroke-width="1.0"/>
<circle cx="431.20" cy="225.20" r="2.8" fill="#b66a33" stroke="#fff" stroke-width="1.0"/>
<circle cx="434.20" cy="237.90" r="2.8" fill="#b66a33" stroke="#fff" stroke-width="1.0"/>
<circle cx="564.00" cy="245.50" r="2.8" fill="#b66a33" stroke="#fff" stroke-width="1.0"/>
<circle cx="566.50" cy="43.20" r="2.7" fill="#b9b9b9" stroke="none" stroke-width="1"/>
<circle cx="573.40" cy="80.20" r="2.7" fill="#b9b9b9" stroke="none" stroke-width="1"/>
<circle cx="573.20" cy="84.00" r="2.7" fill="#b9b9b9" stroke="none" stroke-width="1"/>
<circle cx="572.50" cy="86.80" r="2.7" fill="#b9b9b9" stroke="none" stroke-width="1"/>
<circle cx="574.50" cy="123.30" r="2.7" fill="#b9b9b9" stroke="none" stroke-width="1"/>
<circle cx="575.00" cy="132.10" r="2.7" fill="#b9b9b9" stroke="none" stroke-width="1"/>
<circle cx="567.30" cy="142.00" r="2.7" fill="#b9b9b9" stroke="none" stroke-width="1"/>
<circle cx="571.70" cy="182.60" r="2.7" fill="#b9b9b9" stroke="none" stroke-width="1"/>
<circle cx="576.50" cy="62.90" r="2.6" fill="#2f4f93" stroke="#fff" stroke-width="0.5"/>
<circle cx="574.00" cy="101.70" r="2.6" fill="#2f4f93" stroke="#fff" stroke-width="0.5"/>
<circle cx="574.80" cy="190.30" r="2.6" fill="#2f4f93" stroke="#fff" stroke-width="0.5"/>
<circle cx="574.50" cy="198.30" r="2.6" fill="#2f4f93" stroke="#fff" stroke-width="0.5"/>
<circle cx="573.20" cy="244.20" r="2.6" fill="#2f4f93" stroke="#fff" stroke-width="0.5"/>
<circle cx="572.10" cy="267.30" r="2.6" fill="#2f4f93" stroke="#fff" stroke-width="0.5"/>
<circle cx="572.80" cy="270.60" r="2.6" fill="#2f4f93" stroke="#fff" stroke-width="0.5"/>
<circle cx="569.90" cy="280.00" r="2.6" fill="#2f4f93" stroke="#fff" stroke-width="0.5"/>
<circle cx="560.20" cy="315.70" r="2.6" fill="#2f4f93" stroke="#fff" stroke-width="0.5"/>
<text x="361.00" y="409.80" font-size="9.7" text-anchor="start" fill="#000" stroke="#000" stroke-width="0.1">Group</text>
<rect x="364.90" y="414.50" width="11.60" height="11.60" fill="#fdfdfd" stroke="#c9c9c9" stroke-width="1.1" stroke-linejoin="round"/>
<circle cx="370.30" cy="420.80" r="2.4" fill="#bdbdbd" stroke="none" stroke-width="1"/>
<text x="381.50" y="425.50" font-size="9.6" text-anchor="start" fill="#000" stroke="#000" stroke-width="0.1">Baseline</text>
<rect x="364.90" y="427.10" width="11.60" height="11.60" fill="#fdfdfd" stroke="#c0783c" stroke-width="1.1" stroke-linejoin="round"/>
<circle cx="370.30" cy="433.40" r="2.4" fill="#b5642a" stroke="none" stroke-width="1"/>
<text x="381.50" y="438.10" font-size="9.6" text-anchor="start" fill="#000" stroke="#000" stroke-width="0.1">Adverse_reaction_occured</text>
<rect x="364.90" y="439.70" width="11.60" height="11.60" fill="#fdfdfd" stroke="#3d5a9e" stroke-width="1.1" stroke-linejoin="round"/>
<circle cx="370.30" cy="446.00" r="2.4" fill="#2f4f93" stroke="none" stroke-width="1"/>
<text x="381.50" y="450.70" font-size="9.6" text-anchor="start" fill="#000" stroke="#000" stroke-width="0.1">Tolerance_established</text>
<text x="5.00" y="488.60" font-size="24" text-anchor="start" fill="#000" stroke="#000" stroke-width="0.3">C</text>
<text x="288.60" y="489.20" font-size="13.9" text-anchor="start" fill="#000" stroke="#000" stroke-width="0.35">Metabolic Pathway Enrichment Analysis</text>
<rect x="299.00" y="492.60" width="194.00" height="53.10" fill="#fff" stroke="none" stroke-width="1" stroke-linejoin="round"/>
<line x1="351.20" y1="492.60" x2="351.20" y2="545.70" stroke="#d5d5d5" stroke-width="1.4"/>
<line x1="456.40" y1="492.60" x2="456.40" y2="545.70" stroke="#d5d5d5" stroke-width="1.4"/>
<line x1="403.50" y1="493.60" x2="403.50" y2="544.70" stroke="#c8c8c8" stroke-width="1.0" stroke-dasharray="4,2"/>
<line x1="403.50" y1="497.40" x2="403.50" y2="516.20" stroke="#4f4f4f" stroke-width="1.2"/>
<line x1="403.50" y1="521.20" x2="403.50" y2="540.00" stroke="#4f4f4f" stroke-width="1.2"/>
<rect x="403.50" y="497.40" width="39.80" height="9.00" fill="#7ad5f4" stroke="#93a0cf" stroke-width="1.0" stroke-linejoin="round" fill-opacity="0.95"/>
<rect x="364.40" y="507.10" width="39.10" height="9.00" fill="#d4b9a4" stroke="#9e8e80" stroke-width="1.3" stroke-linejoin="round" fill-opacity="0.92"/>
<line x1="296.00" y1="506.70" x2="299.00" y2="506.70" stroke="#333" stroke-width="1.2"/>
<text x="293.00" y="507.10" font-size="9.3" text-anchor="end" fill="#2a2a2a" stroke="#2a2a2a" stroke-width="0.12">hsa00040: Pentose and glucuronate interconversions</text>
<rect x="403.50" y="521.20" width="46.40" height="9.00" fill="#7ad5f4" stroke="#93a0cf" stroke-width="1.0" stroke-linejoin="round" fill-opacity="0.95"/>
<rect x="357.80" y="530.90" width="45.70" height="9.00" fill="#d4b9a4" stroke="#9e8e80" stroke-width="1.3" stroke-linejoin="round" fill-opacity="0.92"/>
<line x1="296.00" y1="530.50" x2="299.00" y2="530.50" stroke="#333" stroke-width="1.2"/>
<text x="293.00" y="532.40" font-size="9.3" text-anchor="end" fill="#2a2a2a" stroke="#2a2a2a" stroke-width="0.12">hsa00053: Ascorbate and aldarate metabolism</text>
<rect x="299.00" y="492.60" width="194.00" height="53.10" fill="none" stroke="#000" stroke-width="1.9" stroke-linejoin="round"/>
<rect x="496.30" y="494.80" width="13.20" height="48.70" fill="#ededed" stroke="none" stroke-width="1" stroke-linejoin="round"/>
<rect x="493.00" y="492.60" width="18.00" height="53.10" fill="none" stroke="#000" stroke-width="1.9" stroke-linejoin="round"/>
<text x="498.50" y="516.70" font-size="10.2" text-anchor="middle" fill="#1a1a1a" stroke="#1a1a1a" stroke-width="0.3" transform="rotate(90 498.5 516.7)">Human</text>
<rect x="299.00" y="550.80" width="194.00" height="29.20" fill="#fff" stroke="none" stroke-width="1" stroke-linejoin="round"/>
<line x1="351.20" y1="550.80" x2="351.20" y2="580.00" stroke="#d5d5d5" stroke-width="1.4"/>
<line x1="456.40" y1="550.80" x2="456.40" y2="580.00" stroke="#d5d5d5" stroke-width="1.4"/>
<line x1="403.50" y1="551.80" x2="403.50" y2="579.00" stroke="#c8c8c8" stroke-width="1.0" stroke-dasharray="4,2"/>
<line x1="403.50" y1="556.30" x2="403.50" y2="575.10" stroke="#4f4f4f" stroke-width="1.2"/>
<rect x="376.80" y="556.30" width="26.70" height="9.00" fill="#7ad5f4" stroke="#93a0cf" stroke-width="1.0" stroke-linejoin="round" fill-opacity="0.95"/>
<line x1="296.00" y1="565.60" x2="299.00" y2="565.60" stroke="#333" stroke-width="1.2"/>
<text x="293.00" y="567.20" font-size="9.3" text-anchor="end" fill="#2a2a2a" stroke="#2a2a2a" stroke-width="0.12">ko00730: Thiamine metabolism</text>
<rect x="299.00" y="550.80" width="194.00" height="29.20" fill="none" stroke="#000" stroke-width="1.9" stroke-linejoin="round"/>
<rect x="496.30" y="553.00" width="13.20" height="24.80" fill="#ededed" stroke="none" stroke-width="1" stroke-linejoin="round"/>
<rect x="493.00" y="550.80" width="18.00" height="29.20" fill="none" stroke="#000" stroke-width="1.9" stroke-linejoin="round"/>
<text x="498.50" y="566.20" font-size="10.2" text-anchor="middle" fill="#1a1a1a" stroke="#1a1a1a" stroke-width="0.3" transform="rotate(90 498.5 566.2)">Micro</text>
<rect x="299.00" y="585.90" width="194.00" height="274.30" fill="#fff" stroke="none" stroke-width="1" stroke-linejoin="round"/>
<line x1="351.20" y1="585.90" x2="351.20" y2="860.20" stroke="#d5d5d5" stroke-width="1.4"/>
<line x1="456.40" y1="585.90" x2="456.40" y2="860.20" stroke="#d5d5d5" stroke-width="1.4"/>
<line x1="403.50" y1="586.90" x2="403.50" y2="859.20" stroke="#c8c8c8" stroke-width="1.0" stroke-dasharray="4,2"/>
<line x1="403.50" y1="590.90" x2="403.50" y2="609.70" stroke="#4f4f4f" stroke-width="1.2"/>
<line x1="403.50" y1="615.40" x2="403.50" y2="634.20" stroke="#4f4f4f" stroke-width="1.2"/>
<line x1="403.50" y1="639.90" x2="403.50" y2="658.70" stroke="#4f4f4f" stroke-width="1.2"/>
<line x1="403.50" y1="664.40" x2="403.50" y2="683.20" stroke="#4f4f4f" stroke-width="1.2"/>
<line x1="403.50" y1="688.90" x2="403.50" y2="707.70" stroke="#4f4f4f" stroke-width="1.2"/>
<line x1="403.50" y1="713.40" x2="403.50" y2="732.20" stroke="#4f4f4f" stroke-width="1.2"/>
<line x1="403.50" y1="738.00" x2="403.50" y2="756.80" stroke="#4f4f4f" stroke-width="1.2"/>
<line x1="403.50" y1="762.50" x2="403.50" y2="781.30" stroke="#4f4f4f" stroke-width="1.2"/>
<line x1="403.50" y1="787.00" x2="403.50" y2="805.80" stroke="#4f4f4f" stroke-width="1.2"/>
<line x1="403.50" y1="811.60" x2="403.50" y2="830.40" stroke="#4f4f4f" stroke-width="1.2"/>
<line x1="403.50" y1="836.20" x2="403.50" y2="855.00" stroke="#4f4f4f" stroke-width="1.2"/>
<rect x="403.50" y="590.90" width="27.30" height="9.00" fill="#7ad5f4" stroke="#93a0cf" stroke-width="1.0" stroke-linejoin="round" fill-opacity="0.95"/>
<rect x="377.00" y="600.60" width="26.50" height="9.00" fill="#d4b9a4" stroke="#9e8e80" stroke-width="1.3" stroke-linejoin="round" fill-opacity="0.92"/>
<line x1="296.00" y1="600.20" x2="299.00" y2="600.20" stroke="#333" stroke-width="1.2"/>
<text x="293.00" y="604.00" font-size="9.3" text-anchor="end" fill="#2a2a2a" stroke="#2a2a2a" stroke-width="0.12">ko00020: Citrate cycle (TCA cycle)</text>
<rect x="403.50" y="615.40" width="28.30" height="9.00" fill="#7ad5f4" stroke="#93a0cf" stroke-width="1.0" stroke-linejoin="round" fill-opacity="0.95"/>
<rect x="376.00" y="625.10" width="27.50" height="9.00" fill="#d4b9a4" stroke="#9e8e80" stroke-width="1.3" stroke-linejoin="round" fill-opacity="0.92"/>
<line x1="296.00" y1="624.70" x2="299.00" y2="624.70" stroke="#333" stroke-width="1.2"/>
<text x="293.00" y="627.00" font-size="9.3" text-anchor="end" fill="#2a2a2a" stroke="#2a2a2a" stroke-width="0.12">ko00521: Streptomycin biosynthesis</text>
<rect x="403.50" y="639.90" width="29.10" height="9.00" fill="#7ad5f4" stroke="#93a0cf" stroke-width="1.0" stroke-linejoin="round" fill-opacity="0.95"/>
<rect x="375.00" y="649.60" width="28.50" height="9.00" fill="#d4b9a4" stroke="#9e8e80" stroke-width="1.3" stroke-linejoin="round" fill-opacity="0.92"/>
<line x1="296.00" y1="649.20" x2="299.00" y2="649.20" stroke="#333" stroke-width="1.2"/>
<text x="293.00" y="651.70" font-size="9.3" text-anchor="end" fill="#2a2a2a" stroke="#2a2a2a" stroke-width="0.12">ko00311: Penicillin and cephalosporin biosynthesis</text>
<rect x="373.40" y="664.40" width="30.10" height="9.00" fill="#7ad5f4" stroke="#93a0cf" stroke-width="1.0" stroke-linejoin="round" fill-opacity="0.95"/>
<line x1="296.00" y1="673.70" x2="299.00" y2="673.70" stroke="#333" stroke-width="1.2"/>
<text x="293.00" y="675.30" font-size="9.3" text-anchor="end" fill="#2a2a2a" stroke="#2a2a2a" stroke-width="0.12">ko00590: Arachidonic acid metabolism</text>
<rect x="367.00" y="688.90" width="36.50" height="9.00" fill="#7ad5f4" stroke="#93a0cf" stroke-width="1.0" stroke-linejoin="round" fill-opacity="0.95"/>
<rect x="403.50" y="698.60" width="28.70" height="9.00" fill="#d4b9a4" stroke="#9e8e80" stroke-width="1.3" stroke-linejoin="round" fill-opacity="0.92"/>
<line x1="296.00" y1="698.20" x2="299.00" y2="698.20" stroke="#333" stroke-width="1.2"/>
<text x="293.00" y="700.60" font-size="9.3" text-anchor="end" fill="#2a2a2a" stroke="#2a2a2a" stroke-width="0.12">ko00565: Ether lipid metabolism</text>
<rect x="364.40" y="713.40" width="39.10" height="9.00" fill="#7ad5f4" stroke="#93a0cf" stroke-width="1.0" stroke-linejoin="round" fill-opacity="0.95"/>
<rect x="403.50" y="723.10" width="31.70" height="9.00" fill="#d4b9a4" stroke="#9e8e80" stroke-width="1.3" stroke-linejoin="round" fill-opacity="0.92"/>
<line x1="296.00" y1="722.70" x2="299.00" y2="722.70" stroke="#333" stroke-width="1.2"/>
<text x="293.00" y="725.00" font-size="9.3" text-anchor="end" fill="#2a2a2a" stroke="#2a2a2a" stroke-width="0.12">ko00592: alpha−Linolenic acid metabolism</text>
<rect x="403.50" y="747.70" width="39.70" height="9.00" fill="#d4b9a4" stroke="#9e8e80" stroke-width="1.3" stroke-linejoin="round" fill-opacity="0.92"/>
<line x1="296.00" y1="747.30" x2="299.00" y2="747.30" stroke="#333" stroke-width="1.2"/>
<text x="293.00" y="749.00" font-size="9.3" text-anchor="end" fill="#2a2a2a" stroke="#2a2a2a" stroke-width="0.12">ko00680: Methane metabolism</text>
<rect x="403.50" y="772.20" width="49.80" height="9.00" fill="#d4b9a4" stroke="#9e8e80" stroke-width="1.3" stroke-linejoin="round" fill-opacity="0.92"/>
<line x1="296.00" y1="771.80" x2="299.00" y2="771.80" stroke="#333" stroke-width="1.2"/>
<text x="293.00" y="774.20" font-size="9.3" text-anchor="end" fill="#2a2a2a" stroke="#2a2a2a" stroke-width="0.12">ko00260: Glycine, serine and threonine metabolism</text>
<rect x="403.50" y="787.00" width="52.20" height="9.00" fill="#7ad5f4" stroke="#93a0cf" stroke-width="1.0" stroke-linejoin="round" fill-opacity="0.95"/>
<rect x="351.70" y="796.70" width="51.80" height="9.00" fill="#d4b9a4" stroke="#9e8e80" stroke-width="1.3" stroke-linejoin="round" fill-opacity="0.92"/>
<line x1="296.00" y1="796.30" x2="299.00" y2="796.30" stroke="#333" stroke-width="1.2"/>
<text x="293.00" y="799.40" font-size="9.3" text-anchor="end" fill="#2a2a2a" stroke="#2a2a2a" stroke-width="0.12">ko00600: Sphingolipid metabolism</text>
<rect x="336.20" y="811.60" width="67.30" height="9.00" fill="#7ad5f4" stroke="#93a0cf" stroke-width="1.0" stroke-linejoin="round" fill-opacity="0.95"/>
<rect x="403.50" y="821.30" width="80.90" height="9.00" fill="#d4b9a4" stroke="#9e8e80" stroke-width="1.3" stroke-linejoin="round" fill-opacity="0.92"/>
<line x1="296.00" y1="820.90" x2="299.00" y2="820.90" stroke="#333" stroke-width="1.2"/>
<text x="293.00" y="823.60" font-size="9.3" text-anchor="end" fill="#2a2a2a" stroke="#2a2a2a" stroke-width="0.12">ko00564: Glycerophospholipid metabolism</text>
<rect x="307.10" y="836.20" width="96.40" height="9.00" fill="#7ad5f4" stroke="#93a0cf" stroke-width="1.0" stroke-linejoin="round" fill-opacity="0.95"/>
<rect x="403.50" y="845.90" width="77.30" height="9.00" fill="#d4b9a4" stroke="#9e8e80" stroke-width="1.3" stroke-linejoin="round" fill-opacity="0.92"/>
<line x1="296.00" y1="845.50" x2="299.00" y2="845.50" stroke="#333" stroke-width="1.2"/>
<text x="293.00" y="845.80" font-size="9.3" text-anchor="end" fill="#2a2a2a" stroke="#2a2a2a" stroke-width="0.12">ko00591: Linoleic acid metabolism</text>
<rect x="299.00" y="585.90" width="194.00" height="274.30" fill="none" stroke="#000" stroke-width="1.9" stroke-linejoin="round"/>
<rect x="496.30" y="588.10" width="13.20" height="269.90" fill="#ededed" stroke="none" stroke-width="1" stroke-linejoin="round"/>
<rect x="493.00" y="585.90" width="18.00" height="274.30" fill="none" stroke="#000" stroke-width="1.9" stroke-linejoin="round"/>
<text x="498.50" y="717.00" font-size="10.2" text-anchor="middle" fill="#1a1a1a" stroke="#1a1a1a" stroke-width="0.3" transform="rotate(90 498.5 717.0)">Human &amp; Microbe</text>
<line x1="351.50" y1="860.20" x2="351.50" y2="863.00" stroke="#333" stroke-width="1.2"/>
<line x1="403.60" y1="860.20" x2="403.60" y2="863.00" stroke="#333" stroke-width="1.2"/>
<line x1="456.40" y1="860.20" x2="456.40" y2="863.00" stroke="#333" stroke-width="1.2"/>
<text x="340.00" y="875.40" font-size="10.0" text-anchor="middle" fill="#353535" stroke="#353535" stroke-width="0.3">−2</text>
<text x="383.50" y="875.40" font-size="10.0" text-anchor="middle" fill="#353535" stroke="#353535" stroke-width="0.3">0</text>
<text x="427.60" y="875.40" font-size="10.0" text-anchor="middle" fill="#353535" stroke="#353535" stroke-width="0.3">2</text>
<text x="405.90" y="890.70" font-size="9.4" text-anchor="middle" fill="#000" stroke="#000" stroke-width="0.3">log0.05(P−value)</text>
<text x="152.50" y="870.60" font-size="9.7" text-anchor="start" fill="#000" stroke="#000" stroke-width="0.15">Group</text>
<rect x="156.60" y="875.60" width="12.40" height="12.90" fill="#d4b9a4" stroke="#9e8e80" stroke-width="1.1" stroke-linejoin="round"/>
<text x="172.00" y="884.60" font-size="9.6" text-anchor="start" fill="#000" stroke="#000" stroke-width="0.15">Adverse_reaction_occured</text>
<rect x="156.60" y="889.00" width="12.40" height="12.90" fill="#7ad5f4" stroke="#93a0cf" stroke-width="1.1" stroke-linejoin="round"/>
<text x="172.00" y="898.00" font-size="9.6" text-anchor="start" fill="#000" stroke="#000" stroke-width="0.15">Tolerance_established</text></svg>
</body></html>
